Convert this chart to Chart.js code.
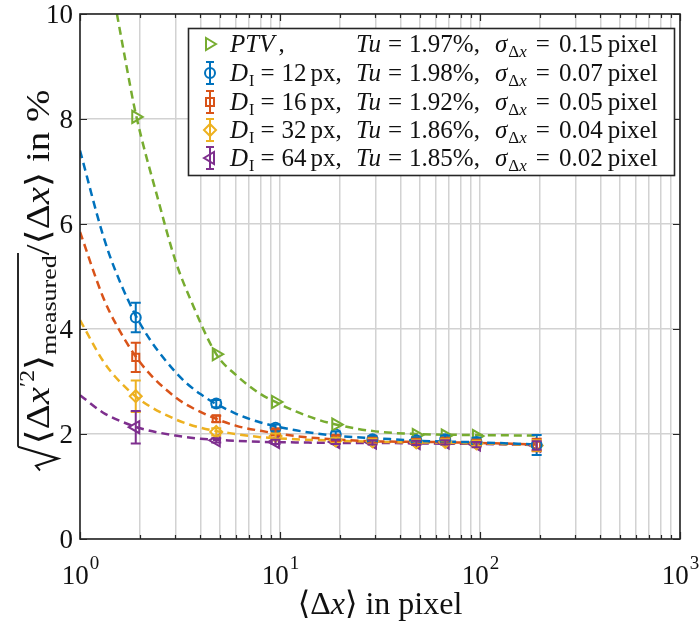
<!DOCTYPE html>
<html><head><meta charset="utf-8">
<script src="https://cdn.jsdelivr.net/npm/chart.js@4/dist/chart.umd.min.js"></script>
<style>html,body{margin:0;padding:0;background:#fff}#wrap{width:700px;height:624px}</style>
</head><body><div id="wrap"><canvas id="c" width="700" height="624"></canvas></div>
<script>
// ---- data ----
const xPts   = [1.9, 4.8, 9.5, 19, 29, 48, 67, 96, 192];
const ptvY   = [8.04, 3.52, 2.61, 2.18, null, 1.98, 1.97, 1.96, null];
const d12Y   = [4.22, 2.58, 2.12, 1.99, 1.90, 1.88, 1.90, 1.85, 1.79];
const d12Err = [0.28, 0.07, 0.06, 0.06, 0.06, 0.06, 0.07, 0.08, 0.19];
const d16Y   = [3.46, 2.29, 2.04, 1.92, 1.88, 1.86, 1.87, 1.83, 1.79];
const d16Err = [0.28, 0.06, 0.05, 0.05, 0.05, 0.05, 0.05, 0.06, 0.12];
const d32Y   = [2.72, 2.04, 1.96, 1.88, 1.86, 1.84, 1.85, 1.82, 1.78];
const d32Err = [0.30, 0.07, 0.05, 0.05, 0.05, 0.05, 0.05, 0.05, 0.10];
const d64Y   = [2.13, 1.88, 1.85, 1.85, 1.84, 1.83, 1.84, 1.80, 1.78];
const d64Err = [0.31, 0.04, 0.04, 0.04, 0.04, 0.04, 0.04, 0.05, 0.08];

const ptvFitX = [1.53, 1.7, 1.9, 2.46, 3, 3.58, 4.8, 6, 8, 9.5, 12, 15, 19, 30, 48, 96, 192];
const ptvFitY = [10, 9.05, 8.1, 6.46, 5.3, 4.55, 3.52, 3.13, 2.76, 2.61, 2.43, 2.29, 2.18, 2.05, 2.0, 1.98, 1.97];
const fitX   = [1, 1.3, 1.5, 2, 3, 4, 6, 8, 12, 20, 30, 50, 100, 192];
const fit12Y = [7.40, 5.80, 5.12, 4.10, 3.18, 2.76, 2.39, 2.22, 2.07, 1.96, 1.92, 1.87, 1.84, 1.80];
const fit16Y = [5.85, 4.62, 4.12, 3.36, 2.70, 2.42, 2.16, 2.06, 1.96, 1.89, 1.86, 1.85, 1.83, 1.80];
const fit32Y = [4.17, 3.40, 3.09, 2.65, 2.28, 2.12, 2.00, 1.94, 1.90, 1.87, 1.85, 1.84, 1.82, 1.79];
const fit64Y = [2.74, 2.41, 2.29, 2.11, 1.97, 1.91, 1.87, 1.85, 1.84, 1.83, 1.83, 1.82, 1.81, 1.79];

const xTickValues = [1, 10, 100, 1000];
const xTickExp    = ['0', '1', '2', '3'];
const yTickValues = [0, 2, 4, 6, 8, 10];
const legendD     = ['12', '16', '32', '64'];
const legendTu    = ['1.97', '1.98', '1.92', '1.86', '1.85'];
const legendSigma = ['0.15', '0.07', '0.05', '0.04', '0.02'];

// ---- styles ----
const C_BLUE = '#0072BD', C_ORANGE = '#D95319', C_YEL = '#EDB120', C_PUR = '#7E2F8E', C_GRN = '#77AC30';
const AXC = '#262626';
const SERIF = '"Liberation Serif","DejaVu Serif",serif';

const pts = (xs, ys) => xs.map((x, i) => ({x: x, y: ys[i]}));
const gridX = [];
for (let d = 1; d < 1000; d *= 10) for (let k = 1; k < 10; k++) gridX.push(d * k);
gridX.push(1000);

function fitDs(xs, ys, col) {
  return {data: pts(xs, ys), showLine: true, borderColor: col, borderWidth: 2.5, borderDash: [8, 5],
    pointRadius: 0, fill: false, cubicInterpolationMode: 'monotone', order: 5};
}
function mkDs(ys, col, style, rot, r, err) {
  return {data: pts(xPts, ys), showLine: false, borderColor: col, backgroundColor: 'rgba(0,0,0,0)',
    pointStyle: style, rotation: rot, pointRadius: r, pointBorderWidth: 2, pointBorderColor: col,
    pointBackgroundColor: 'rgba(0,0,0,0)', order: 1, errors: err};
}

const datasets = [
  fitDs(ptvFitX, ptvFitY, C_GRN),
  fitDs(fitX, fit12Y, C_BLUE),
  fitDs(fitX, fit16Y, C_ORANGE),
  fitDs(fitX, fit32Y, C_YEL),
  fitDs(fitX, fit64Y, C_PUR),
  mkDs(ptvY, C_GRN, 'triangle', 90, 7, null),
  mkDs(d12Y, C_BLUE, 'circle', 0, 5, d12Err),
  mkDs(d16Y, C_ORANGE, 'rect', 0, 5, d16Err),
  mkDs(d32Y, C_YEL, 'rectRot', 0, 6, d32Err),
  mkDs(d64Y, C_PUR, 'triangle', 270, 7, d64Err)
];

function setFont(ctx, size, italic) {
  ctx.font = (italic ? 'italic ' : '') + size + 'px ' + SERIF;
}
function put(ctx, s, x, y, size, italic) {
  setFont(ctx, size, italic); ctx.fillText(s, x, y); return x + ctx.measureText(s).width;
}
function drawMarker(ctx, style, x, y, col) {
  ctx.save(); ctx.strokeStyle = col; ctx.lineWidth = 2;
  ctx.beginPath();
  if (style === 'circle') { ctx.arc(x, y, 5, 0, Math.PI * 2); }
  else if (style === 'rect') { ctx.rect(x - 4, y - 4, 8, 8); }
  else if (style === 'diamond') { ctx.moveTo(x, y - 6); ctx.lineTo(x + 6, y); ctx.lineTo(x, y + 6); ctx.lineTo(x - 6, y); ctx.closePath(); }
  else if (style === 'tright') { ctx.moveTo(x + 6, y); ctx.lineTo(x - 4, y - 6); ctx.lineTo(x - 4, y + 6); ctx.closePath(); }
  else if (style === 'tleft') { ctx.moveTo(x - 6, y); ctx.lineTo(x + 4, y - 6); ctx.lineTo(x + 4, y + 6); ctx.closePath(); }
  ctx.stroke(); ctx.restore();
}
function errBar(ctx, x, y1, y2, col, cap) {
  ctx.save(); ctx.strokeStyle = col; ctx.lineWidth = 2;
  ctx.beginPath(); ctx.moveTo(x, y1); ctx.lineTo(x, y2);
  ctx.moveTo(x - cap, y1); ctx.lineTo(x + cap, y1);
  ctx.moveTo(x - cap, y2); ctx.lineTo(x + cap, y2);
  ctx.stroke(); ctx.restore();
}

const errPlugin = {
  id: 'errbars',
  afterDatasetsDraw(chart) {
    const ctx = chart.ctx, xs = chart.scales.x, ys = chart.scales.y;
    chart.data.datasets.forEach(ds => {
      if (!ds.errors) return;
      ds.data.forEach((p, i) => {
        if (p.y == null) return;
        const e = ds.errors[i];
        errBar(ctx, xs.getPixelForValue(p.x), ys.getPixelForValue(p.y + e), ys.getPixelForValue(p.y - e), ds.borderColor, 5);
      });
    });
  }
};

const decoPlugin = {
  id: 'deco',
  afterDraw(chart) {
    const ctx = chart.ctx, a = chart.chartArea, xs = chart.scales.x, ys = chart.scales.y;
    ctx.save();
    // ticks
    ctx.strokeStyle = AXC; ctx.lineWidth = 1.2;
    ctx.beginPath();
    gridX.forEach(v => {
      const px = Math.round(xs.getPixelForValue(v)) + 0.5;
      const major = xTickValues.includes(v);
      const L = major ? 7 : 4;
      ctx.moveTo(px, a.bottom); ctx.lineTo(px, a.bottom - L);
      ctx.moveTo(px, a.top); ctx.lineTo(px, a.top + L);
    });
    yTickValues.forEach(v => {
      const py = Math.round(ys.getPixelForValue(v)) + 0.5;
      ctx.moveTo(a.left, py); ctx.lineTo(a.left + 7, py);
      ctx.moveTo(a.right, py); ctx.lineTo(a.right - 7, py);
    });
    ctx.stroke();
    // box
    ctx.lineWidth = 1.6; ctx.strokeStyle = AXC;
    ctx.strokeRect(a.left, a.top, a.right - a.left, a.bottom - a.top);

    ctx.fillStyle = '#111';
    ctx.textBaseline = 'alphabetic';
    // y tick labels
    ctx.textAlign = 'right';
    yTickValues.forEach(v => {
      setFont(ctx, 27, false);
      ctx.fillText(String(v), 73, ys.getPixelForValue(v) + 9);
    });
    // x tick labels
    ctx.textAlign = 'left';
    xTickValues.forEach((v, i) => {
      const px = xs.getPixelForValue(v);
      setFont(ctx, 27, false);
      const w1 = ctx.measureText('10').width;
      setFont(ctx, 19, false);
      const w2 = ctx.measureText(xTickExp[i]).width;
      const x0 = px - (w1 + w2) / 2;
      put(ctx, '10', x0, 584, 27, false);
      put(ctx, xTickExp[i], x0 + w1 + 1, 569, 19, false);
    });
    // x label
    {
      let w = 0;
      const parts = [['⟨Δ', 32, false], ['x', 32, true], ['⟩ in pixel', 32, false]];
      parts.forEach(p => { setFont(ctx, p[1], p[2]); w += ctx.measureText(p[0]).width; });
      let x = 380 - w / 2;
      parts.forEach(p => { x = put(ctx, p[0], x, 614, p[1], p[2]); });
    }
    // y label (rotated)
    {
      ctx.save();
      ctx.translate(49, 280);
      ctx.rotate(-Math.PI / 2);
      ctx.scale(1.18, 1);
      const F = 33;
      const segs = [
        ['R', 0, 0, false],
        ['⟨Δ', F, 0, false], ['x', F, 0, true], ['′2', 20, -15, false], ['⟩', F, 0, false],
        ['measured', 22, 7, false],
        ['O', 0, 0, false],
        ['/⟨Δ', F, 0, false], ['x', F, 0, true], ['⟩ in %', F, 0, false]
      ];
      const radW = 22;
      let total = 0;
      segs.forEach(s => { if (s[0] === 'R') total += radW; else if (s[0] !== 'O') { setFont(ctx, s[1], s[3]); total += ctx.measureText(s[0]).width; } });
      let x = -total / 2, ovStart = 0, ovEnd = 0;
      segs.forEach(s => {
        if (s[0] === 'R') {
          ctx.save(); ctx.strokeStyle = '#111'; ctx.lineWidth = 1.8;
          ctx.beginPath();
          ctx.moveTo(x, -9); ctx.lineTo(x + 4, -13); ctx.lineTo(x + 10, 9); ctx.lineTo(x + 20, -31);
          ctx.stroke(); ctx.restore();
          ovStart = x + 20; x += radW;
        } else if (s[0] === 'O') {
          ovEnd = x + 2;
        } else {
          x = put(ctx, s[0], x, s[2], s[1], s[3]);
        }
      });
      ctx.strokeStyle = '#111'; ctx.lineWidth = 1.8;
      ctx.beginPath(); ctx.moveTo(ovStart, -31); ctx.lineTo(ovEnd, -31); ctx.stroke();
      ctx.restore();
    }
    // legend
    {
      const L = 188, T = 28, W = 486, H = 147;
      ctx.fillStyle = '#fff';
      ctx.fillRect(L, T, W, H);
      ctx.strokeStyle = AXC; ctx.lineWidth = 1.6;
      ctx.strokeRect(L + 0.5, T + 0.5, W, H);
      const rowsY = [44, 73, 102, 130, 158];
      const styles = ['tright', 'circle', 'rect', 'diamond', 'tleft'];
      const cols = [C_GRN, C_BLUE, C_ORANGE, C_YEL, C_PUR];
      const FS = 25;
      rowsY.forEach((cy, r) => {
        const bl = cy + 8;
        const sx = 210;
        if (r > 0) errBar(ctx, sx, cy - 11, cy + 11, cols[r], 4);
        drawMarker(ctx, styles[r], sx, cy, cols[r]);
        ctx.fillStyle = '#111';
        let x;
        if (r === 0) {
          x = put(ctx, 'PTV', 230, bl, FS, true);
          put(ctx, ',', x + 4, bl, FS, false);
        } else {
          x = put(ctx, 'D', 230, bl, FS, true);
          x = put(ctx, 'I', x + 1, bl + 5, 16, false);
          x = put(ctx, '=', x + 6, bl, FS, false);
          x = put(ctx, legendD[r - 1], x + 7, bl, FS, false);
          x = put(ctx, 'px,', x + 4, bl, FS, false);
        }
        x = put(ctx, 'Tu', 356, bl, FS, true);
        x = put(ctx, '=', x + 7, bl, FS, false);
        x = put(ctx, legendTu[r] + '%,', x + 7, bl, FS, false);
        x = put(ctx, 'σ', 495, bl, FS, true);
        x = put(ctx, 'Δ', x + 1, bl + 5, 17, false);
        x = put(ctx, 'x', x, bl + 5, 17, true);
        x = put(ctx, '=', x + 9, bl, FS, false);
        x = put(ctx, legendSigma[r], x + 9, bl, FS, false);
        put(ctx, 'pixel', x + 5, bl, FS, false);
      });
    }
    ctx.restore();
  }
};

new Chart(document.getElementById('c'), {
  type: 'scatter',
  data: {datasets: datasets},
  options: {
    responsive: false, animation: false, devicePixelRatio: 1,
    layout: {padding: {top: 14, right: 20, left: 0, bottom: 0}},
    plugins: {legend: {display: false}, tooltip: {enabled: false}},
    scales: {
      x: {type: 'logarithmic', min: 1, max: 1000,
        afterBuildTicks: s => { s.ticks = gridX.map(v => ({value: v})); },
        afterFit: s => { s.height = 85; },
        ticks: {display: false},
        grid: {color: '#d2d2d2', lineWidth: 1.5, drawTicks: false},
        border: {display: false}},
      y: {type: 'linear', min: 0, max: 10,
        afterBuildTicks: s => { s.ticks = yTickValues.map(v => ({value: v})); },
        afterFit: s => { s.width = 80; },
        ticks: {display: false},
        grid: {color: '#d2d2d2', lineWidth: 1.5, drawTicks: false},
        border: {display: false}}
    }
  },
  plugins: [errPlugin, decoPlugin]
});
</script></body></html>
